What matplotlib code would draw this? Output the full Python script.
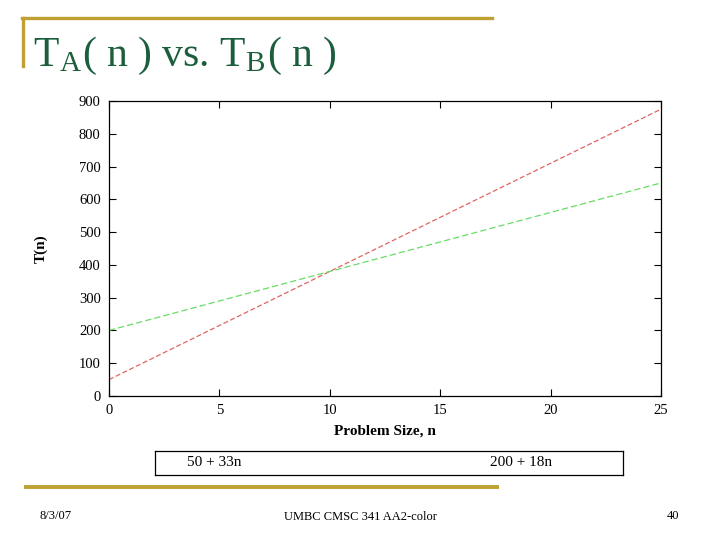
import matplotlib.pyplot as plt
from matplotlib.lines import Line2D

# the two lines, endpoints at n = 0 and n = 25
n = [0, 25]
t_a = [50, 875]
t_b = [200, 650]
labels = ['50 + 33n', '200 + 18n']

xticks = [0, 5, 10, 15, 20, 25]
yticks = [0, 100, 200, 300, 400, 500, 600, 700, 800, 900]

serif = ['Liberation Serif', 'DejaVu Serif']
plt.rcParams['font.family'] = serif
plt.rcParams['mathtext.fontset'] = 'stix'

fig = plt.figure(figsize=(7.2, 5.4), dpi=100)
ax = fig.add_axes([109/720, 1 - 396/540, 552/720, 295/540])

ax.plot(n, t_a, color='#e06464', lw=0.9, dashes=(4, 2))
ax.plot(n, t_b, color='#66dd66', lw=0.9, dashes=(5, 2.5))

ax.set_xlim(0, 25)
ax.set_ylim(0, 900)
ax.set_xticks(xticks)
ax.set_yticks(yticks)
ax.tick_params(direction='in', length=5, width=0.8, labelsize=10.5,
               top=True, right=True, pad=6)
for s in ax.spines.values():
    s.set_linewidth(0.9)
ax.set_xlabel('Problem Size, n', fontsize=11, fontweight='bold', labelpad=5)
ax.set_ylabel('T(n)', fontsize=11, fontweight='bold', labelpad=22)

# legend box below the plot
lax = fig.add_axes([155/720, 1 - 475/540, 468/720, 24/540])
lax.set_xticks([])
lax.set_yticks([])
for s in lax.spines.values():
    s.set_linewidth(0.9)
lax.text(0.068, 0.5, labels[0], fontsize=11, va='center')
lax.text(0.715, 0.5, labels[1], fontsize=11, va='center')

# slide decorations
gold = '#c0a032'
fig.add_artist(Line2D([22/720, 492/720], [1 - 18/540, 1 - 18/540], color=gold, lw=2.4))
fig.add_artist(Line2D([23/720, 23/720], [1 - 18/540, 1 - 66/540], color=gold, lw=2.4))
fig.add_artist(Line2D([26/720, 497/720], [1 - 487/540, 1 - 487/540], color=gold, lw=2.8))

fig.text(33/720, 1 - 66/540, r'T$_\mathregular{A}$( n ) vs. T$_\mathregular{B}$( n )',
         fontsize=30, color='#1b5e3b', va='baseline')

fig.text(39/720, 1 - 516/540, '8/3/07', fontsize=9, va='center')
fig.text(360/720, 1 - 517/540, 'UMBC CMSC 341 AA2-color', fontsize=9, va='center', ha='center')
fig.text(679/720, 1 - 516/540, '40', fontsize=9, va='center', ha='right')

fig.savefig('out.png', dpi=100)
